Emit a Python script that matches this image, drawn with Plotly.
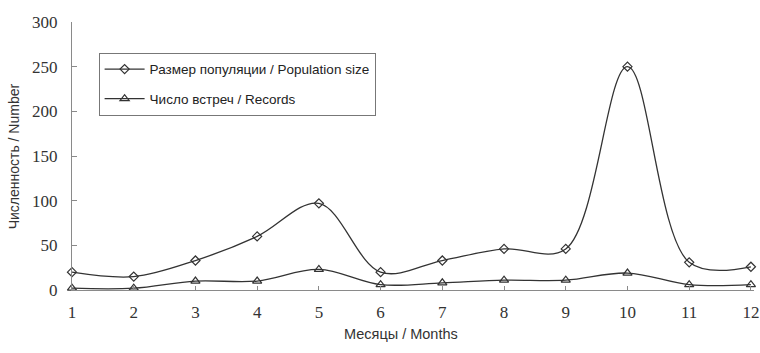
import plotly.graph_objects as go

months = [1, 2, 3, 4, 5, 6, 7, 8, 9, 10, 11, 12]
population = [20, 15, 33, 60, 97, 20, 33, 46, 46, 250, 31, 26]
records = [2, 2, 10, 10, 23, 6, 8, 11, 11, 19, 6, 6]
y_ticks = [0, 50, 100, 150, 200, 250, 300]

fig = go.Figure()
fig.add_trace(go.Scatter(
    x=months, y=population, mode="lines+markers",
    name="Размер популяции / Population size", legendgroup="a",
    line=dict(color="#333333", width=1.3, shape="spline", smoothing=1),
    marker=dict(symbol="diamond-open", size=7, color="#333333", line=dict(width=1.2)),
    cliponaxis=False,
))
fig.add_trace(go.Scatter(
    x=months, y=records, mode="lines+markers",
    name="Число встреч / Records", legendgroup="b",
    line=dict(color="#333333", width=1.3, shape="spline", smoothing=1),
    marker=dict(symbol="triangle-up-open", size=8, color="#333333", line=dict(width=1.2)),
    cliponaxis=False,
))

fig.update_layout(
    width=760, height=353,
    margin=dict(l=72, r=6, t=22, b=63, autoexpand=False),
    paper_bgcolor="white", plot_bgcolor="white",
    showlegend=True,
    legend=dict(
        x=0.039, y=0.885, xanchor="left", yanchor="top",
        bordercolor="#777", borderwidth=1, bgcolor="white",
        font=dict(family="Liberation Sans, Arial", size=13.5, color="#222"),
        tracegroupgap=9, itemwidth=40,
    ),
    xaxis=dict(
        range=[1, 12.05], tickvals=months, ticktext=[str(m) for m in months],
        automargin=False,
        showgrid=False, zeroline=False, showline=True, linecolor="#8a8a8a", linewidth=1.2,
        ticks="inside", ticklen=4, tickcolor="#8a8a8a",
        tickfont=dict(family="Liberation Serif, Times New Roman", size=17, color="#333"),
        ticklabelstandoff=6,
    ),
    yaxis=dict(
        range=[0, 300], tickvals=y_ticks, automargin=False,
        showgrid=False, zeroline=False, showline=True, linecolor="#8a8a8a", linewidth=1.2,
        ticks="inside", ticklen=5, tickcolor="#8a8a8a",
        tickfont=dict(family="Liberation Serif, Times New Roman", size=17, color="#333"),
        ticklabelstandoff=10,
    ),
)

fig.add_annotation(
    text="Численность / Number", xref="paper", yref="paper",
    x=-0.0845, y=0.5, xanchor="center", yanchor="middle", showarrow=False,
    textangle=-90, font=dict(family="Liberation Sans, Arial", size=14, color="#333"),
)
fig.add_annotation(
    text="Месяцы / Months", xref="paper", yref="paper",
    x=0.482, y=-0.163, xanchor="center", yanchor="middle", showarrow=False,
    font=dict(family="Liberation Sans, Arial", size=14.5, color="#333"),
)

fig.write_html("out.html", config={"displayModeBar": False},
               post_script="document.body.style.margin='0';document.body.style.overflow='hidden';")
